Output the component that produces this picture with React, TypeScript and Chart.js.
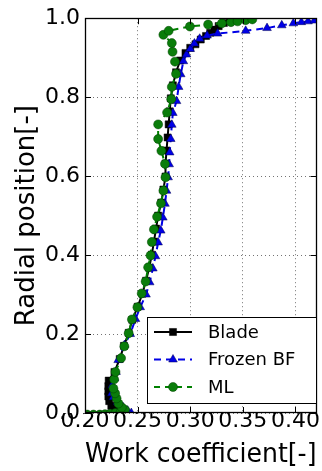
import React, { useEffect, useRef } from "react";
import { Chart, registerables } from "chart.js";

Chart.register(...registerables);

// ---- data ----
const seriesLabels = ["Blade", "Frozen BF", "ML"];

const bladeWork = [0.232, 0.228, 0.225, 0.223, 0.2222, 0.2222, 0.2222, 0.2225, 0.228, 0.233, 0.237, 0.2415, 0.245, 0.25, 0.2545, 0.258, 0.261, 0.2635, 0.2655, 0.2675, 0.2695, 0.2725, 0.2745, 0.2765, 0.2765, 0.2775, 0.2785, 0.2795, 0.2805, 0.2815, 0.2835, 0.2865, 0.2905, 0.2955, 0.3, 0.305, 0.31, 0.315, 0.319, 0.323, 0.327, 0.332, 0.338, 0.346];
const bladeRadial = [0, 0.008, 0.018, 0.03, 0.042, 0.055, 0.068, 0.082, 0.104, 0.137, 0.17, 0.203, 0.236, 0.269, 0.302, 0.335, 0.368, 0.401, 0.434, 0.467, 0.5, 0.533, 0.566, 0.599, 0.632, 0.665, 0.698, 0.731, 0.764, 0.797, 0.83, 0.863, 0.893, 0.912, 0.925, 0.934, 0.946, 0.955, 0.963, 0.971, 0.98, 0.988, 0.994, 1.0];

const frozenWork = [0.244, 0.2405, 0.236, 0.231, 0.227, 0.2255, 0.226, 0.228, 0.2295, 0.2315, 0.2375, 0.243, 0.248, 0.2525, 0.258, 0.2615, 0.2645, 0.267, 0.2695, 0.272, 0.274, 0.276, 0.2775, 0.279, 0.28, 0.2805, 0.2815, 0.2825, 0.2835, 0.287, 0.289, 0.291, 0.2935, 0.2965, 0.3, 0.304, 0.309, 0.316, 0.326, 0.3527, 0.373, 0.387, 0.398, 0.4056, 0.412, 0.418, 0.428, 0.44];
const frozenRadial = [0, 0.006, 0.015, 0.028, 0.04, 0.05, 0.07, 0.088, 0.104, 0.134, 0.172, 0.2, 0.238, 0.268, 0.3, 0.331, 0.366, 0.397, 0.432, 0.462, 0.495, 0.53, 0.563, 0.597, 0.63, 0.66, 0.694, 0.73, 0.76, 0.79, 0.826, 0.858, 0.891, 0.908, 0.922, 0.936, 0.948, 0.956, 0.961, 0.968, 0.975, 0.982, 0.987, 0.99, 0.992, 0.994, 0.997, 1.0];

const mlWork = [0.185, 0.195, 0.202, 0.208, 0.214, 0.219, 0.224, 0.229, 0.234, 0.238, 0.235, 0.2318, 0.23, 0.2286, 0.227, 0.2277, 0.229, 0.2343, 0.2374, 0.2415, 0.2446, 0.2498, 0.2539, 0.2576, 0.26, 0.2623, 0.2635, 0.2655, 0.2685, 0.2722, 0.2745, 0.2765, 0.276, 0.2726, 0.2695, 0.2695, 0.278, 0.282, 0.2825, 0.2865, 0.2855, 0.2832, 0.2825, 0.2745, 0.2795, 0.2997, 0.317, 0.33, 0.3387, 0.345, 0.3527, 0.359];
const mlRadial = [-0.004, -0.004, -0.004, -0.004, -0.004, -0.003, -0.002, 0, 0.003, 0.008, 0.014, 0.024, 0.037, 0.05, 0.062, 0.085, 0.104, 0.139, 0.169, 0.202, 0.237, 0.268, 0.303, 0.333, 0.369, 0.399, 0.433, 0.465, 0.497, 0.531, 0.563, 0.597, 0.631, 0.664, 0.694, 0.731, 0.761, 0.795, 0.826, 0.859, 0.89, 0.915, 0.937, 0.958, 0.968, 0.979, 0.984, 0.987, 0.99, 0.992, 0.995, 0.997];

const xTickValues = [0.2, 0.25, 0.3, 0.35, 0.4];
const xTickLabels = ["0.20", "0.25", "0.30", "0.35", "0.40"];
const yTickValues = [0, 0.2, 0.4, 0.6, 0.8, 1.0];
const yTickLabels = ["0.0", "0.2", "0.4", "0.6", "0.8", "1.0"];
const xTitle = "Work coefficient[-]";
const yTitle = "Radial position[-]";

const FONT = "'DejaVu Sans', sans-serif";

function pts(xs: number[], ys: number[]) {
  return xs.map((x, i) => ({ x, y: ys[i] }));
}

function drawMarker(ctx: CanvasRenderingContext2D, style: string, x: number, y: number, r: number) {
  ctx.beginPath();
  if (style === "rect") {
    const s = Math.SQRT1_2 * r;
    ctx.rect(x - s, y - s, 2 * s, 2 * s);
  } else if (style === "triangle") {
    let rad = 0;
    ctx.moveTo(x + Math.sin(rad) * r, y - Math.cos(rad) * r);
    rad += (2 * Math.PI) / 3;
    ctx.lineTo(x + Math.sin(rad) * r, y - Math.cos(rad) * r);
    rad += (2 * Math.PI) / 3;
    ctx.lineTo(x + Math.sin(rad) * r, y - Math.cos(rad) * r);
    ctx.closePath();
  } else {
    ctx.arc(x, y, r, 0, Math.PI * 2);
  }
  ctx.fill();
  ctx.stroke();
}

const framePlugin = {
  id: "mplFrame",
  afterDatasetsDraw(chart: any) {
    const { ctx, chartArea: a, scales } = chart;
    ctx.save();
    ctx.strokeStyle = "#000";
    ctx.lineWidth = 1;
    const L = 6;
    const line = (x1: number, y1: number, x2: number, y2: number) => {
      ctx.beginPath();
      ctx.moveTo(x1, y1);
      ctx.lineTo(x2, y2);
      ctx.stroke();
    };
    scales.x.ticks.forEach((t: any) => {
      const px = Math.round(scales.x.getPixelForValue(t.value)) + 0.5;
      line(px, a.bottom, px, a.bottom - L);
      line(px, a.top, px, a.top + L);
    });
    scales.y.ticks.forEach((t: any) => {
      const py = Math.round(scales.y.getPixelForValue(t.value)) + 0.5;
      line(a.left, py, a.left + L, py);
      line(a.right, py, a.right - L, py);
    });
    ctx.lineWidth = 1.3;
    ctx.strokeRect(Math.round(a.left) + 0.5, Math.round(a.top) + 0.5, Math.round(a.right - a.left) - 1, Math.round(a.bottom - a.top) - 1);
    ctx.restore();
  },
  afterDraw(chart: any) {
    const { ctx, chartArea: a } = chart;
    const w = 170;
    const h = 87;
    const x0 = Math.round(a.right) - w;
    const y0 = Math.round(a.bottom) - 96;
    ctx.save();
    ctx.fillStyle = "#fff";
    ctx.fillRect(x0, y0, w, h);
    ctx.strokeStyle = "#000";
    ctx.lineWidth = 1;
    ctx.strokeRect(x0 + 0.5, y0 + 0.5, w - 1, h - 1);
    chart.data.datasets.forEach((ds: any, i: number) => {
      const cy = y0 + 15 + i * 27.5;
      ctx.save();
      ctx.strokeStyle = ds.borderColor;
      ctx.lineWidth = ds.borderWidth;
      ctx.setLineDash(ds.borderDash || []);
      ctx.beginPath();
      ctx.moveTo(x0 + 7, cy);
      ctx.lineTo(x0 + 45, cy);
      ctx.stroke();
      ctx.setLineDash([]);
      ctx.fillStyle = ds.pointBackgroundColor;
      ctx.strokeStyle = ds.pointBorderColor;
      ctx.lineWidth = ds.pointBorderWidth;
      drawMarker(ctx, ds.pointStyle, x0 + 26, cy, ds.pointRadius);
      ctx.restore();
      ctx.fillStyle = "#000";
      ctx.font = `18px ${FONT}`;
      ctx.textBaseline = "middle";
      ctx.textAlign = "left";
      ctx.fillText(ds.label, x0 + 61, cy + 1);
    });
    ctx.restore();
  },
};

export default function App() {
  const ref = useRef<HTMLCanvasElement>(null);
  useEffect(() => {
    if (!ref.current) return;
    const chart = new Chart(ref.current, {
      type: "scatter",
      data: {
        datasets: [
          {
            label: seriesLabels[0],
            data: pts(bladeWork, bladeRadial),
            showLine: true,
            borderColor: "#000000",
            borderWidth: 2,
            pointStyle: "rect",
            pointRadius: 5,
            pointBackgroundColor: "#000000",
            pointBorderColor: "#000000",
            pointBorderWidth: 0.5,
            order: 2,
            clip: 0,
          },
          {
            label: seriesLabels[1],
            data: pts(frozenWork, frozenRadial),
            showLine: true,
            borderColor: "#0000e6",
            borderWidth: 2,
            borderDash: [7, 5],
            pointStyle: "triangle",
            pointRadius: 5,
            pointBackgroundColor: "#0000e6",
            pointBorderColor: "#000050",
            pointBorderWidth: 0.5,
            order: 1,
            clip: 0,
          },
          {
            label: seriesLabels[2],
            data: pts(mlWork, mlRadial),
            showLine: true,
            borderColor: "#008000",
            borderWidth: 2,
            borderDash: [6, 5],
            pointStyle: "circle",
            pointRadius: 4.5,
            pointBackgroundColor: "#0a7d0a",
            pointBorderColor: "#004000",
            pointBorderWidth: 0.5,
            order: 0,
            clip: 0,
          },
        ] as any,
      },
      options: {
        animation: false,
        responsive: false,
        devicePixelRatio: 1,
        layout: { padding: { top: 17, right: 1.5, bottom: 0, left: 0 } },
        plugins: { legend: { display: false }, tooltip: { enabled: false } },
        scales: {
          x: {
            type: "linear",
            min: 0.2,
            max: 0.42,
            afterBuildTicks: (s: any) => {
              s.ticks = xTickValues.map((v) => ({ value: v }));
            },
            afterFit: (s: any) => {
              s.height = 58;
            },
            ticks: {
              autoSkip: false,
              maxRotation: 0,
              minRotation: 0,
              padding: -5,
              color: "#000",
              font: { family: FONT, size: 22 },
              callback: (_v: any, i: number) => xTickLabels[i],
            },
            grid: { color: "rgba(0,0,0,0.55)", lineWidth: 1, drawTicks: false },
            border: { display: false, dash: [1, 3] },
            title: {
              display: true,
              text: xTitle,
              color: "#000",
              font: { family: FONT, size: 26 },
              padding: { top: 0, bottom: 0 },
            },
          },
          y: {
            type: "linear",
            min: 0,
            max: 1.0,
            afterBuildTicks: (s: any) => {
              s.ticks = yTickValues.map((v) => ({ value: v }));
            },
            afterFit: (s: any) => {
              s.width = 85;
            },
            ticks: {
              padding: 5,
              color: "#000",
              font: { family: FONT, size: 22 },
              callback: (_v: any, i: number) => yTickLabels[i],
            },
            grid: { color: "rgba(0,0,0,0.55)", lineWidth: 1, drawTicks: false },
            border: { display: false, dash: [1, 3] },
            title: {
              display: true,
              text: yTitle,
              color: "#000",
              font: { family: FONT, size: 26 },
              padding: { top: 12, bottom: 0 },
            },
          },
        },
      } as any,
      plugins: [framePlugin as any],
    });
    return () => chart.destroy();
  }, []);
  return (
    <div style={{ position: "fixed", left: 0, top: 0, width: 322, height: 471, background: "#fff" }}>
      <canvas ref={ref} width={322} height={471} style={{ display: "block", width: 322, height: 471 }} />
    </div>
  );
}
